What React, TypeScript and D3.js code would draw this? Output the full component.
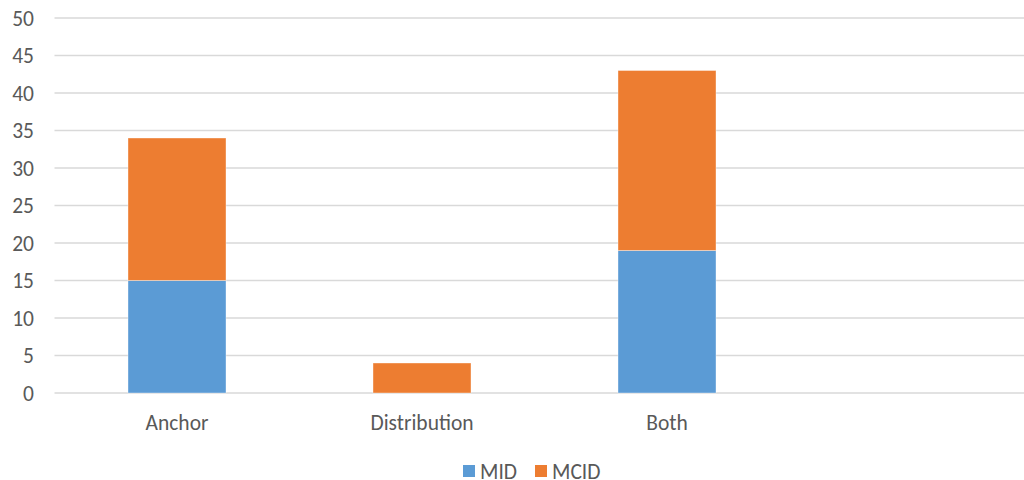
import React from "react";
import * as d3 from "d3";

const categories = ["Anchor", "Distribution", "Both", ""];
const midValues = [15, 0, 19, 0];
const mcidValues = [19, 4, 24, 0];
const seriesNames = ["MID", "MCID"];
const seriesColors = ["#5B9BD5", "#ED7D31"];
const yTicks = [0, 5, 10, 15, 20, 25, 30, 35, 40, 45, 50];

const W = 1024;
const H = 480;
const FONT = "Carlito, Calibri, 'Open Sans', sans-serif";
const FS = 21.5;

export default function App() {
  const x = d3.scaleBand<string>().domain(categories).range([54.5, 1034.5]).padding(0);
  const y = d3.scaleLinear().domain([0, 50]).range([393, 18]);
  const barW = x.bandwidth() * 0.4;

  const rows = categories.map((c, i) => ({ cat: c, MID: midValues[i], MCID: mcidValues[i] }));
  const stacked = d3.stack<any>().keys(seriesNames)(rows);

  return (
    <svg
      width={W}
      height={H}
      style={{ position: "fixed", left: 0, top: 0, display: "block", background: "#fff" }}
      fontFamily={FONT}
    >
      {yTicks.map((t) => (
        <g key={t}>
          <line x1={54.5} x2={W} y1={y(t)} y2={y(t)} stroke="#d9d9d9" strokeWidth={1.5} />
          <text x={34} y={y(t)} dy="0.35em" textAnchor="end" fontSize={FS} fill="#595959">
            {t}
          </text>
        </g>
      ))}
      {stacked.map((s, si) =>
        s.map((d, i) =>
          d[1] - d[0] > 0 ? (
            <rect
              key={`${si}-${i}`}
              x={(x(categories[i]) as number) + (x.bandwidth() - barW) / 2}
              y={y(d[1])}
              width={barW}
              height={y(d[0]) - y(d[1])}
              fill={seriesColors[si]}
              stroke="#ffffff"
              strokeOpacity={0.5}
              strokeWidth={0.75}
            />
          ) : null
        )
      )}
      {categories.map((c) => (
        <text
          key={c || "blank"}
          x={(x(c) as number) + x.bandwidth() / 2}
          y={422}
          dy="0.35em"
          textAnchor="middle"
          fontSize={FS}
          fill="#595959"
        >
          {c}
        </text>
      ))}
      {seriesNames.map((n, i) => {
        const lx = [463, 535][i];
        return (
          <g key={n}>
            <rect x={lx} y={465} width={12} height={12} fill={seriesColors[i]} />
            <text x={lx + 17} y={471} dy="0.35em" fontSize={FS} fill="#595959">
              {n}
            </text>
          </g>
        );
      })}
    </svg>
  );
}
